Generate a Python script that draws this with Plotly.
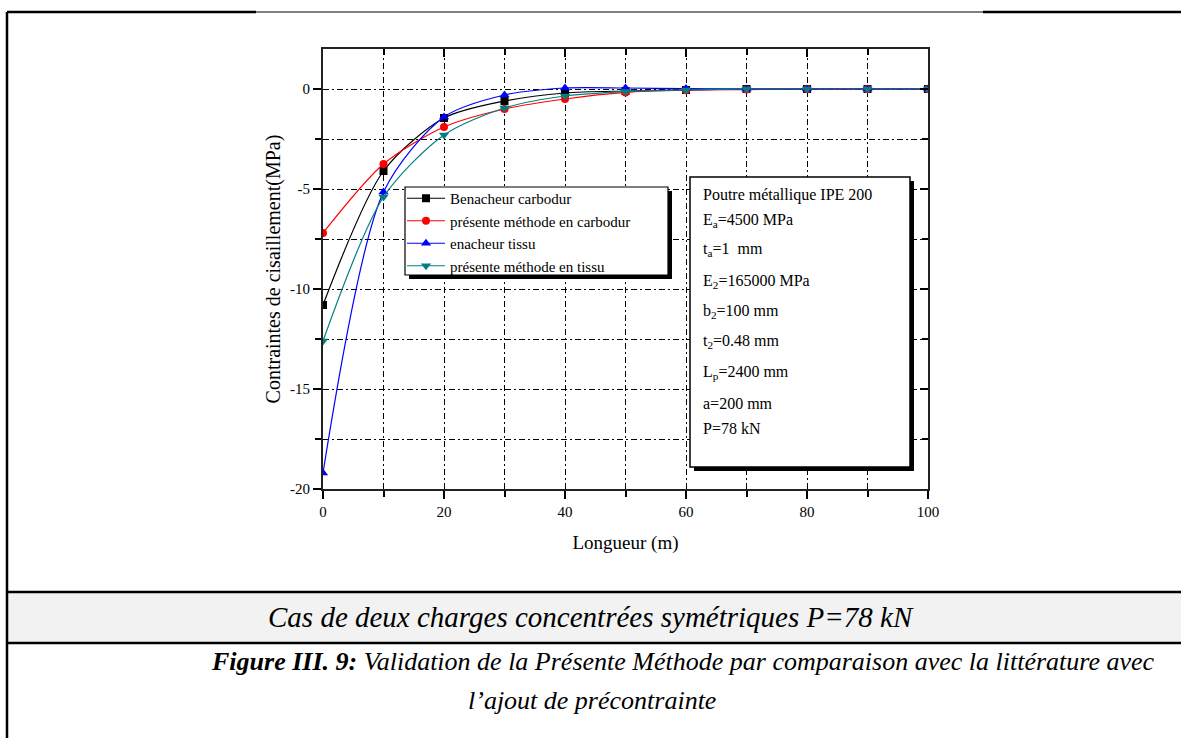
import plotly.graph_objects as go

# Longueur (m) at which each curve is sampled
longueur = [0, 10, 20, 30, 40, 50, 60, 70, 80, 90, 100]

# Contraintes de cisaillement (MPa)
benacheur_carbodur = [-10.8, -4.1, -1.45, -0.6, -0.2, -0.1, -0.05, 0, 0, 0, 0]
presente_carbodur = [-7.2, -3.75, -1.9, -1.0, -0.5, -0.17, -0.06, -0.03, 0, 0, 0]
benacheur_tissu = [-19.2, -5.15, -1.4, -0.3, 0.05, 0.05, 0.02, 0, 0, 0, 0]
presente_tissu = [-12.6, -5.4, -2.3, -0.95, -0.35, -0.13, -0.05, 0, 0, 0, 0]

series_names = [
    "Benacheur carbodur",
    "présente méthode en carbodur",
    "enacheur tissu",
    "présente méthode en tissu",
]
series_values = [benacheur_carbodur, presente_carbodur, benacheur_tissu, presente_tissu]
series_colors = ["#000000", "#ff0000", "#0000ff", "#008080"]
series_symbols = ["square", "circle", "triangle-up", "triangle-down"]

x_ticks = [0, 20, 40, 60, 80, 100]
y_ticks = [-20, -15, -10, -5, 0]
y_tick_labels = ["-20", "-15", "-10", "-5", "0"]

info_lines = [
    "Poutre métallique IPE 200",
    "E<sub>a</sub>=4500 MPa",
    "t<sub>a</sub>=1  mm",
    "E<sub>2</sub>=165000 MPa",
    "b<sub>2</sub>=100 mm",
    "t<sub>2</sub>=0.48 mm",
    "L<sub>p</sub>=2400 mm",
    "a=200 mm",
    "P=78 kN",
]

caption = "Cas de deux charges concentrées symétriques P=78 kN"
figure_label = "<b>Figure III. 9:</b> Validation de la Présente Méthode par comparaison avec la littérature avec"
figure_label_2 = "l’ajout de précontrainte"

W, H = 1181, 738
PL, PR, PT, PB = 323, 928, 49, 489
SERIF = "Liberation Serif, Times New Roman, serif"


def fx(p):
    return (p - PL) / (PR - PL)


def fy(p):
    return (PB - p) / (PB - PT)


fig = go.Figure()

for name, vals, col, sym in zip(series_names, series_values, series_colors, series_symbols):
    fig.add_trace(go.Scatter(
        x=longueur, y=vals, name=name, mode="lines+markers",
        line=dict(color=col, width=1.2, shape="spline", smoothing=0.8),
        marker=dict(symbol=sym, size=9 if "triangle" in sym else 8, color=col),
    ))

# helper trace so the top/right axes with inward ticks are drawn
fig.add_trace(go.Scatter(x=[None], y=[None], xaxis="x2", yaxis="y2",
                         showlegend=False, hoverinfo="skip"))

grid_dash = "6px,3px,2px,3px"

fig.update_layout(
    width=W, height=H,
    margin=dict(l=PL, r=W - PR, t=PT, b=H - PB, pad=0),
    paper_bgcolor="white", plot_bgcolor="white",
    font=dict(family=SERIF, color="black", size=15),
    xaxis=dict(
        range=[0, 100], tickvals=x_ticks, ticks="outside", ticklen=8, tickwidth=1.5,
        tickcolor="black", showline=True, linecolor="#222", linewidth=2, mirror=True,
        showgrid=True, gridcolor="black", gridwidth=1, griddash=grid_dash, zeroline=False,
        minor=dict(dtick=10, tick0=0, ticks="outside", ticklen=6, tickwidth=1.5, tickcolor="black",
                   showgrid=True, gridcolor="black", gridwidth=1, griddash=grid_dash),
        tickfont=dict(size=15),
        title=dict(text="Longueur (m)", font=dict(size=19), standoff=17),
    ),
    yaxis=dict(
        range=[-20, 2], tickvals=y_ticks, ticktext=y_tick_labels, ticks="outside", ticklen=8,
        tickwidth=1.5, tickcolor="black", showline=True, linecolor="#222", linewidth=2, mirror=True,
        showgrid=True, gridcolor="black", gridwidth=1, griddash=grid_dash, zeroline=False,
        minor=dict(dtick=2.5, tick0=0, ticks="outside", ticklen=6, tickwidth=1.5, tickcolor="black",
                   showgrid=True, gridcolor="black", gridwidth=1, griddash=grid_dash),
        tickfont=dict(size=15),
        title=dict(text="Contraintes de cisaillement(MPa)", font=dict(size=20), standoff=4),
    ),
    xaxis2=dict(
        overlaying="x", side="top", range=[0, 100], tickvals=x_ticks, ticks="inside",
        ticklen=8, tickwidth=1.5, tickcolor="black", showticklabels=False, showgrid=False,
        zeroline=False, showline=False,
        minor=dict(dtick=10, tick0=0, ticks="inside", ticklen=6, tickwidth=1.5, tickcolor="black"),
    ),
    yaxis2=dict(
        overlaying="y", side="right", range=[-20, 2], tickvals=y_ticks, ticks="inside",
        ticklen=8, tickwidth=1.5, tickcolor="black", showticklabels=False, showgrid=False,
        zeroline=False, showline=False,
        minor=dict(dtick=2.5, tick0=0, ticks="inside", ticklen=6, tickwidth=1.5, tickcolor="black"),
    ),
    legend=dict(
        x=fx(402), y=fy(182), xanchor="left", yanchor="top",
        bgcolor="rgba(0,0,0,0)", borderwidth=0, itemwidth=38,
        font=dict(family=SERIF, size=15, color="black"),
        tracegroupgap=0,
    ),
    showlegend=True,
)

shapes = []


def rect(x0, y0, x1, y1, **kw):
    shapes.append(dict(type="rect", xref="paper", yref="paper",
                       x0=fx(x0), x1=fx(x1), y0=fy(y1), y1=fy(y0), **kw))


def hline(x0, x1, y, width):
    shapes.append(dict(type="line", xref="paper", yref="paper",
                       x0=fx(x0), x1=fx(x1), y0=fy(y), y1=fy(y),
                       line=dict(color="black", width=width), layer="above"))


# table frame around the figure
hline(7, 256, 12, 2.5)
hline(256, 983, 12, 1)
hline(983, W, 12, 2.5)
shapes.append(dict(type="line", xref="paper", yref="paper", x0=fx(7), x1=fx(7),
                   y0=fy(12), y1=fy(H), line=dict(color="black", width=2.5), layer="above"))
rect(8, 592, W, 643, fillcolor="#f2f2f2", line=dict(width=0), layer="below")
hline(7, W, 592, 2.5)
hline(7, W, 643, 2.5)

# legend frame with drop shadow
rect(409, 191, 672, 279, fillcolor="black", line=dict(width=0), layer="above")
rect(405, 187, 668, 275, fillcolor="white", line=dict(color="black", width=1.2), layer="above")

# parameter box with drop shadow
rect(694, 181, 914, 471, fillcolor="black", line=dict(width=0), layer="above")
rect(690, 177, 910, 467, fillcolor="white", line=dict(color="black", width=1.5), layer="above")

fig.update_layout(shapes=shapes)

annotations = []
info_y = [195, 221, 249, 281, 311, 341, 372, 403, 428]
for txt, yy in zip(info_lines, info_y):
    annotations.append(dict(text=txt, xref="paper", yref="paper", x=fx(701), y=fy(yy),
                            xanchor="left", yanchor="middle", showarrow=False,
                            font=dict(family=SERIF, size=16, color="black")))

annotations.append(dict(text="<i>" + caption + "</i>", xref="paper", yref="paper",
                        x=fx(591), y=fy(617), xanchor="center", yanchor="middle",
                        showarrow=False, font=dict(family=SERIF, size=29, color="black")))
annotations.append(dict(text="<i>" + figure_label + "</i>", xref="paper", yref="paper",
                        x=fx(683), y=fy(661), xanchor="center", yanchor="middle",
                        showarrow=False, font=dict(family=SERIF, size=26, color="black")))
annotations.append(dict(text="<i>" + figure_label_2 + "</i>", xref="paper", yref="paper",
                        x=fx(592), y=fy(700), xanchor="center", yanchor="middle",
                        showarrow=False, font=dict(family=SERIF, size=26, color="black")))
fig.update_layout(annotations=annotations)

fig.write_html("out.html")
